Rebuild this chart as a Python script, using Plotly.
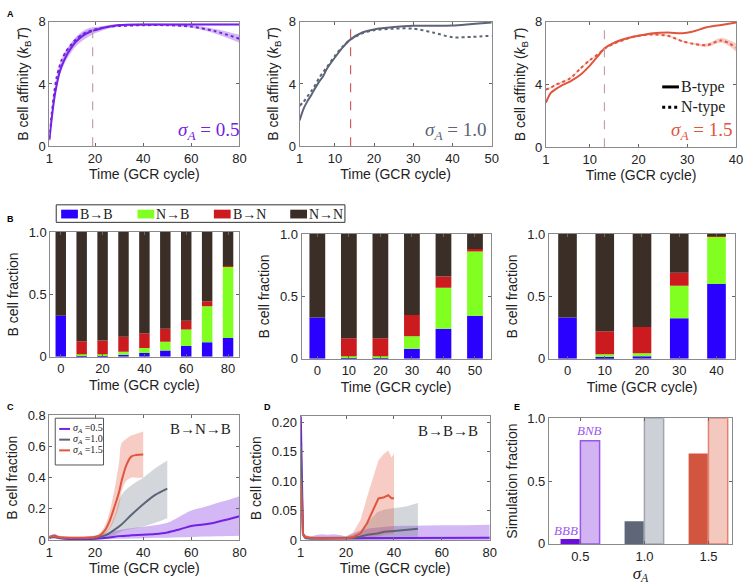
import numpy as np
import plotly.graph_objects as go

W, H = 750, 587
PURPLE = "#7420E6"
GRAY = "#5C6477"
RED = "#E0553D"
PURPLE_BAND = "rgba(150,85,232,0.42)"
GRAY_BAND = "rgba(110,118,135,0.30)"
RED_BAND = "rgba(224,85,61,0.30)"

# ---------------- Panel A data ----------------
a1_x = [1, 2, 3, 4, 5, 6, 8, 10, 12, 15, 18, 20, 25, 30, 40, 50, 60, 70, 80]
a1_B = [0.4, 1.8, 3.0, 3.9, 4.6, 5.1, 5.8, 6.3, 6.7, 7.1, 7.35, 7.45, 7.65, 7.78, 7.82, 7.82, 7.82, 7.82, 7.82]
a1_B_err = [0.05, 0.1, 0.15, 0.2, 0.2, 0.25, 0.3, 0.3, 0.3, 0.3, 0.25, 0.2, 0.12, 0.06, 0.05, 0.05, 0.05, 0.05, 0.05]
a1_N = [0.5, 2.1, 3.4, 4.4, 5.0, 5.5, 6.1, 6.5, 6.85, 7.2, 7.4, 7.5, 7.65, 7.72, 7.77, 7.77, 7.68, 7.38, 6.9]
a1_N_err = [0.05, 0.08, 0.1, 0.1, 0.1, 0.1, 0.1, 0.1, 0.1, 0.1, 0.08, 0.06, 0.05, 0.05, 0.05, 0.05, 0.08, 0.15, 0.25]

a2_x = [1, 2, 3, 4, 5, 6, 7, 8, 10, 12, 14, 17, 20, 25, 30, 35, 40, 45, 50]
a2_B = [1.66, 2.4, 2.9, 3.3, 3.75, 4.15, 4.5, 4.99, 5.7, 6.35, 6.86, 7.3, 7.5, 7.65, 7.73, 7.73, 7.75, 7.85, 7.95]
a2_N = [2.6, 2.85, 3.2, 3.55, 3.95, 4.4, 4.75, 5.1, 5.8, 6.4, 6.85, 7.25, 7.45, 7.55, 7.55, 7.3, 7.0, 7.02, 7.1]

a3_x = [1, 2, 3, 4, 6, 8, 10, 12, 13, 15, 18, 20, 23, 26, 29, 31, 34, 37, 40]
a3_B = [2.85, 3.46, 3.7, 3.9, 4.2, 4.6, 5.2, 5.94, 6.29, 6.66, 6.97, 7.1, 7.26, 7.3, 7.26, 7.36, 7.64, 7.79, 7.94]
a3_N = [3.67, 3.8, 3.98, 4.1, 4.4, 5.0, 5.55, 6.0, 6.29, 6.6, 6.95, 7.1, 7.18, 7.1, 6.75, 6.6, 6.5, 6.8, 6.35]
a3_N_err = [0.05, 0.05, 0.05, 0.05, 0.05, 0.05, 0.05, 0.05, 0.05, 0.05, 0.05, 0.05, 0.05, 0.05, 0.05, 0.05, 0.1, 0.15, 0.25]

a_cross = [19, 14, 13]          # dashed vertical marker times
a_sigma_labels = ["0.5", "1.0", "1.5"]
a_type_labels = ["B-type", "N-type"]

# ---------------- Panel B data ----------------
b_labels = ["B→B", "N→B", "B→N", "N→N"]
b_colors = ["#2A00FF", "#80FF20", "#CC1B1E", "#3A2E26"]

b1_t = [0, 10, 20, 30, 40, 50, 60, 70, 80]
b1_BB = [0.33, 0.008, 0.008, 0.016, 0.03, 0.05, 0.086, 0.117, 0.15]
b1_NB = [0.0, 0.012, 0.012, 0.024, 0.04, 0.07, 0.134, 0.288, 0.57]
b1_BN = [0.0, 0.105, 0.11, 0.12, 0.12, 0.105, 0.07, 0.04, 0.01]
b1_NN = [0.67, 0.875, 0.87, 0.84, 0.81, 0.775, 0.71, 0.555, 0.27]

b2_t = [0, 10, 20, 30, 40, 50]
b2_BB = [0.33, 0.008, 0.01, 0.08, 0.24, 0.345]
b2_NB = [0.0, 0.012, 0.01, 0.1, 0.33, 0.515]
b2_BN = [0.0, 0.144, 0.144, 0.17, 0.09, 0.02]
b2_NN = [0.67, 0.836, 0.836, 0.65, 0.34, 0.12]

b3_t = [0, 10, 20, 30, 40]
b3_BB = [0.33, 0.015, 0.02, 0.325, 0.6]
b3_NB = [0.0, 0.021, 0.024, 0.26, 0.38]
b3_BN = [0.0, 0.184, 0.211, 0.105, 0.01]
b3_NN = [0.67, 0.78, 0.745, 0.31, 0.01]

# ---------------- Panel C data (B->N->B) ----------------
c1_x = [1, 3, 5, 10, 15, 20, 25, 30, 35, 40, 45, 50, 55, 60, 65, 70, 75, 80]
c1_y = [0.012, 0.028, 0.012, 0.006, 0.006, 0.008, 0.014, 0.025, 0.03, 0.033, 0.038, 0.048, 0.068, 0.09, 0.1, 0.113, 0.132, 0.152]
c1_lo = [0.005, 0.01, 0.005, 0.002, 0.002, 0.003, 0.005, 0.008, 0.01, 0.012, 0.014, 0.015, 0.018, 0.02, 0.022, 0.024, 0.026, 0.028]
c1_hi = [0.02, 0.04, 0.025, 0.015, 0.018, 0.025, 0.045, 0.065, 0.075, 0.085, 0.095, 0.11, 0.15, 0.19, 0.21, 0.235, 0.255, 0.28]

c2_x = [1, 3, 5, 10, 15, 20, 22, 25, 28, 31, 35, 40, 45, 50]
c2_y = [0.02, 0.02, 0.015, 0.012, 0.012, 0.015, 0.02, 0.035, 0.065, 0.1, 0.16, 0.23, 0.29, 0.33]
c2_lo = [0.01, 0.01, 0.008, 0.006, 0.006, 0.008, 0.01, 0.015, 0.03, 0.056, 0.07, 0.087, 0.11, 0.14]
c2_hi = [0.03, 0.03, 0.025, 0.02, 0.02, 0.025, 0.035, 0.06, 0.15, 0.29, 0.35, 0.4, 0.46, 0.51]

c3_x = [1, 3, 5, 10, 15, 20, 22, 24, 26, 28, 30, 31, 33, 35, 37, 40]
c3_y = [0.02, 0.025, 0.018, 0.015, 0.015, 0.02, 0.03, 0.06, 0.12, 0.21, 0.31, 0.377, 0.48, 0.535, 0.545, 0.548]
c3_lo = [0.01, 0.015, 0.01, 0.008, 0.008, 0.012, 0.018, 0.035, 0.07, 0.13, 0.22, 0.31, 0.38, 0.4, 0.4, 0.4]
c3_hi = [0.03, 0.035, 0.028, 0.022, 0.022, 0.03, 0.045, 0.09, 0.18, 0.32, 0.5, 0.62, 0.65, 0.67, 0.68, 0.696]

# ---------------- Panel D data (B->B->B) ----------------
d1_x = [1, 2, 3, 5, 8, 10, 12, 15, 18, 20, 25, 30, 40, 50, 60, 70, 80]
d1_y = [0.23, 0.01, 0.004, 0.003, 0.003, 0.003, 0.003, 0.003, 0.003, 0.003, 0.003, 0.003, 0.004, 0.004, 0.004, 0.004, 0.004]
d1_lo = [0.2, 0.005, 0.001, 0, 0, 0, 0, 0, 0, 0, 0, 0, 0, 0, 0, 0, 0]
d1_hi = [0.23, 0.015, 0.006, 0.006, 0.009, 0.01, 0.009, 0.01, 0.008, 0.006, 0.015, 0.02, 0.024, 0.025, 0.025, 0.025, 0.026]

d2_x = [1, 2, 3, 5, 10, 15, 20, 23, 26, 29, 33, 36, 40, 45, 50]
d2_y = [0.16, 0.01, 0.004, 0.003, 0.003, 0.003, 0.003, 0.004, 0.006, 0.009, 0.011, 0.014, 0.0155, 0.017, 0.019]
d2_lo = [0.12, 0.005, 0.001, 0, 0, 0, 0, 0, 0, 0, 0, 0, 0.001, 0.002, 0.003]
d2_hi = [0.19, 0.015, 0.008, 0.006, 0.006, 0.006, 0.006, 0.008, 0.012, 0.03, 0.047, 0.052, 0.054, 0.057, 0.063]

d3_x = [1, 2, 3, 5, 10, 15, 20, 23, 26, 28.7, 31.5, 33.5, 35.5, 37.6, 39, 40]
d3_y = [0.106, 0.01, 0.005, 0.004, 0.003, 0.003, 0.003, 0.005, 0.0116, 0.028, 0.053, 0.0705, 0.072, 0.076, 0.071, 0.071]
d3_lo = [0.08, 0.005, 0.002, 0.001, 0, 0, 0, 0, 0.001, 0.002, 0.004, 0.006, 0.008, 0.01, 0.01, 0.01]
d3_hi = [0.12, 0.015, 0.008, 0.006, 0.005, 0.005, 0.006, 0.013, 0.034, 0.072, 0.108, 0.135, 0.145, 0.152, 0.14, 0.147]

# ---------------- Panel E data ----------------
e_sigma = [0.5, 1.0, 1.5]
e_bbb = [0.04, 0.18, 0.72]
e_bnb = [0.82, 1.0, 1.0]
e_bbb_colors = ["#6A0EDC", "#5E6678", "#D25540"]
e_bnb_colors = ["#D3B4F2", "#CDD0D6", "#F3C9BF"]
e_bnb_edges = ["#9A55EC", "#A0A6B0", "#E88070"]

# ---------------- layout helpers ----------------
SANS = "Liberation Sans"
SERIF = "Liberation Serif"

panels = {
    1: ((46, 239), (15, 143)),
    2: ((300, 495), (15, 143)),
    3: ((550, 743), (15, 144)),
    4: ((47, 238), (231, 359)),
    5: ((302, 494), (233, 361)),
    6: ((553, 742), (233, 361)),
    7: ((46, 239), (419, 547)),
    8: ((301, 493), (420, 547)),
    9: ((553, 739), (422, 551)),
}


def px(x, y):
    return x / W, 1 - y / H


def axis_base():
    return dict(showline=True, linecolor="#8a8a8a", linewidth=1, mirror="ticks",
                ticks="inside", ticklen=3, tickcolor="#666", showgrid=False,
                zeroline=False, tickfont=dict(family=SANS, size=13, color="#222"),
                title_font=dict(family=SANS, size=14, color="#222"))


layout = dict(width=W, height=H, margin=dict(l=0, r=0, t=0, b=0),
              paper_bgcolor="white", plot_bgcolor="white", barmode="overlay",
              showlegend=False)

time_title = "Time (GCR cycle)"
aff_title = "B cell affinity (<i>k</i><sub>B</sub><i>T</i>)"
frac_title = "B cell fraction"

axes_spec = {
    1: dict(xr=[1, 80], xt=[1, 20, 40, 60, 80], yr=[0, 8], yt=[0, 4, 8], yl=["0", "4", "8"], xtitle=time_title, ytitle=aff_title),
    2: dict(xr=[1, 50], xt=[1, 10, 20, 30, 40, 50], yr=[0, 8], yt=[0, 4, 8], yl=["0", "4", "8"], xtitle=time_title, ytitle=aff_title),
    3: dict(xr=[1, 40], xt=[1, 10, 20, 30, 40], yr=[0, 8], yt=[0, 4, 8], yl=["0", "4", "8"], xtitle=time_title, ytitle=aff_title),
    4: dict(xr=[-5, 85], xt=[0, 20, 40, 60, 80], yr=[0, 1], yt=[0, 0.5, 1], yl=["0", "0.5", "1.0"], xtitle=time_title, ytitle=frac_title),
    5: dict(xr=[-5, 55], xt=[0, 10, 20, 30, 40, 50], yr=[0, 1], yt=[0, 0.5, 1], yl=["0", "0.5", "1.0"], xtitle=time_title, ytitle=frac_title),
    6: dict(xr=[-5, 45], xt=[0, 10, 20, 30, 40], yr=[0, 1], yt=[0, 0.5, 1], yl=["0", "0.5", "1.0"], xtitle=time_title, ytitle=frac_title),
    7: dict(xr=[1, 80], xt=[1, 20, 40, 60, 80], yr=[0, 0.8], yt=[0, 0.2, 0.4, 0.6, 0.8], yl=["0", "0.2", "0.4", "0.6", "0.8"], xtitle=time_title, ytitle=frac_title),
    8: dict(xr=[1, 80], xt=[1, 20, 40, 60, 80], yr=[0, 0.21], yt=[0, 0.05, 0.1, 0.15, 0.2], yl=["0", "0.05", "0.10", "0.15", "0.20"], xtitle=time_title, ytitle=frac_title),
    9: dict(xr=[0.254, 1.685], xt=[0.5, 1.0, 1.5], yr=[0, 1], yt=[0, 0.5, 1], yl=["0", "0.5", "1.0"], xtitle="<i>σ<sub>A</sub></i>", ytitle="Simulation fraction"),
}

for i, spec in axes_spec.items():
    (x0, x1), (y0, y1) = panels[i]
    sx = "" if i == 1 else str(i)
    xa = axis_base()
    xa.update(domain=[x0 / W, x1 / W], anchor="y" + sx, range=spec["xr"], tickvals=spec["xt"],
              ticktext=[("%.1f" % v) if i == 9 else str(v) for v in spec["xt"]],
              title=dict(text=spec["xtitle"], standoff=4))
    if i == 9:
        xa["title"] = dict(text=spec["xtitle"], standoff=0,
                           font=dict(family=SERIF, size=17, color="#222"))
    ya = axis_base()
    ya.update(domain=[1 - y1 / H, 1 - y0 / H], anchor="x" + sx, range=spec["yr"], tickvals=spec["yt"],
              ticktext=spec["yl"], title=dict(text=spec["ytitle"], standoff=6))
    layout["xaxis" + sx] = xa
    layout["yaxis" + sx] = ya


fig = go.Figure()


def ax(i):
    s = "" if i == 1 else str(i)
    return dict(xaxis="x" + s, yaxis="y" + s)


def band(i, x, lo, hi, color, shape="spline"):
    fig.add_trace(go.Scatter(x=x, y=lo, mode="lines", line=dict(width=0, shape=shape),
                             showlegend=False, hoverinfo="skip", **ax(i)))
    fig.add_trace(go.Scatter(x=x, y=hi, mode="lines", line=dict(width=0, shape=shape),
                             fill="tonexty", fillcolor=color, showlegend=False,
                             hoverinfo="skip", **ax(i)))


def line(i, x, y, color, dash="solid", width=2, shape="spline", **kw):
    fig.add_trace(go.Scatter(x=x, y=y, mode="lines",
                             line=dict(color=color, width=width, dash=dash, shape=shape, smoothing=0.8),
                             **ax(i), **kw))


# ---- Panel A ----
a_sets = [
    (1, a1_x, a1_B, a1_B_err, a1_N, a1_N_err, PURPLE, PURPLE_BAND),
    (2, a2_x, a2_B, None, a2_N, None, GRAY, GRAY_BAND),
    (3, a3_x, a3_B, None, a3_N, a3_N_err, RED, RED_BAND),
]
for (i, x, yb, eb, yn, en, col, bandcol) in a_sets:
    if eb is not None:
        band(i, x, np.array(yb) - np.array(eb), np.array(yb) + np.array(eb), bandcol)
    if en is not None:
        band(i, x, np.array(yn) - np.array(en), np.array(yn) + np.array(en), bandcol)
    line(i, x, yn, col, dash="dot", width=2)
    line(i, x, yb, col, width=2)

cross_colors = ["#C4A0A8", "#D25A5A", "#C4A0A8"]
shapes = []
for k, t in enumerate(a_cross):
    s = "" if k == 0 else str(k + 1)
    shapes.append(dict(type="line", xref="x" + s, yref="y" + s + " domain", x0=t, x1=t, y0=0, y1=1,
                       line=dict(color=cross_colors[k], width=1.2, dash="dash")))

# ---- Panel B ----
b_sets = [(4, b1_t, [b1_BB, b1_NB, b1_BN, b1_NN]),
          (5, b2_t, [b2_BB, b2_NB, b2_BN, b2_NN]),
          (6, b3_t, [b3_BB, b3_NB, b3_BN, b3_NN])]
for (i, t, series) in b_sets:
    base = np.zeros(len(t))
    for k, vals in enumerate(series):
        fig.add_trace(go.Bar(x=t, y=vals, base=base.copy(), width=5, name=b_labels[k],
                             marker=dict(color=b_colors[k], line=dict(width=0)), **ax(i)))
        base = base + np.array(vals)

# ---- Panel C ----
c_sets = [(c1_x, c1_y, c1_lo, c1_hi, PURPLE, PURPLE_BAND, "0.5"),
          (c2_x, c2_y, c2_lo, c2_hi, GRAY, GRAY_BAND, "1.0"),
          (c3_x, c3_y, c3_lo, c3_hi, RED, RED_BAND, "1.5")]
for (x, y, lo, hi, col, bc, lab) in c_sets:
    band(7, x, lo, hi, bc)
for (x, y, lo, hi, col, bc, lab) in c_sets:
    line(7, x, y, col, width=2)

# ---- Panel D ----
d_sets = [(d1_x, d1_y, d1_lo, d1_hi, PURPLE, PURPLE_BAND),
          (d2_x, d2_y, d2_lo, d2_hi, GRAY, GRAY_BAND),
          (d3_x, d3_y, d3_lo, d3_hi, RED, RED_BAND)]
for (x, y, lo, hi, col, bc) in d_sets:
    band(8, x, lo, hi, bc, shape="linear")
for (x, y, lo, hi, col, bc) in d_sets:
    line(8, x, y, col, width=2, shape="linear")

# ---- Panel E ----
fig.add_trace(go.Bar(x=e_sigma, y=e_bbb, width=0.15, offset=-0.155,
                     marker=dict(color=e_bbb_colors, line=dict(width=0)), **ax(9)))
fig.add_trace(go.Bar(x=e_sigma, y=e_bnb, width=0.15, offset=0.0,
                     marker=dict(color=e_bnb_colors, line=dict(width=1.5, color=e_bnb_edges)), **ax(9)))

# ---------------- annotations ----------------
ann = []


def text_at(x, y, txt, size, family=SERIF, color="#222", xanchor="left"):
    xx, yy = px(x, y)
    ann.append(dict(x=xx, y=yy, xref="paper", yref="paper", text=txt, showarrow=False,
                    xanchor=xanchor, yanchor="middle", borderpad=0,
                    font=dict(family=family, size=size, color=color)))


for (lx, ly, txt) in [(2, 7, "A"), (2, 218, "B"), (2, 410, "C"), (263, 410, "D"), (517, 410, "E")]:
    text_at(lx, ly, "<b>%s</b>" % txt, 9, family=SANS, color="black")

for k, (rx, col) in enumerate([(240, PURPLE), (490, GRAY), (740, RED)]):
    text_at(rx, 127, "<i>σ<sub>A</sub></i>&nbsp;=&nbsp;" + a_sigma_labels[k], 19, color=col, xanchor="right")

text_at(231, 433, "B→N→B", 15, xanchor="right")
text_at(482, 435, "B→B→B", 15, xanchor="right")

ann.append(dict(x=e_sigma[0] - 0.11, y=e_bbb[0], xref="x9", yref="y9", text="<i>BBB</i>", showarrow=False,
                xanchor="center", yanchor="middle", yshift=8, font=dict(family=SERIF, size=13, color="#9A55EC")))
ann.append(dict(x=e_sigma[0] + 0.075, y=e_bnb[0], xref="x9", yref="y9", text="<i>BNB</i>", showarrow=False,
                xanchor="center", yanchor="middle", yshift=10, font=dict(family=SERIF, size=13, color="#9A55EC")))


def pshape(**kw):
    d = dict(xref="paper", yref="paper")
    d.update(kw)
    shapes.append(d)


# Legend for panel B (transition types)
bx0, by0, bx1, by1 = 53, 203, 346, 221
pshape(type="rect", x0=bx0 / W, x1=bx1 / W, y0=1 - by1 / H, y1=1 - by0 / H,
       line=dict(color="#333", width=1), fillcolor="white")
for k, lab in enumerate(b_labels):
    sx0 = 58 + 77.5 * k
    pshape(type="rect", x0=sx0 / W, x1=(sx0 + 17) / W, y0=1 - 217 / H, y1=1 - 208 / H,
           line=dict(width=0), fillcolor=b_colors[k])
    text_at(sx0 + 18, 212.5, lab, 14)

# Legend for A3 (line type)
for k, lab in enumerate(a_type_labels):
    yy = 82 + 21 * k
    pshape(type="line", x0=668 / W, x1=685 / W, y0=1 - yy / H, y1=1 - yy / H,
           line=dict(color="black", width=3, dash="solid" if k == 0 else "dot"))
    text_at(686, yy, lab, 16)

# Legend for panel C (sigma)
pshape(type="rect", x0=52 / W, x1=101 / W, y0=1 - 470 / H, y1=1 - 422 / H,
       line=dict(color="#555", width=1), fillcolor="white")
for k, (x, y, lo, hi, col, bc, lab) in enumerate(c_sets):
    yy = 433 + 11 * k
    pshape(type="line", x0=56 / W, x1=67 / W, y0=1 - yy / H, y1=1 - yy / H,
           line=dict(color=col, width=2))
    text_at(69, yy, "<i>σ<sub>A</sub></i>&nbsp;=" + lab, 10)

layout["annotations"] = ann
layout["shapes"] = shapes

fig.update_layout(**layout)
fig.write_html("out.html", config={"displayModeBar": False},
               post_script="document.body.style.margin='0';document.body.style.padding='0';")
